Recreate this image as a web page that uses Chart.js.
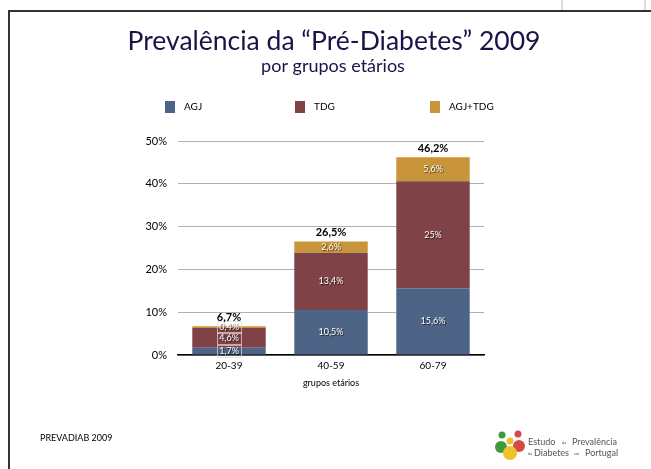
<!DOCTYPE html>
<html>
<head>
<meta charset="utf-8">
<script src="https://cdn.jsdelivr.net/npm/chart.js@4.4.1/dist/chart.umd.min.js"></script>
<style>
  html, body { margin: 0; padding: 0; background: #fff; }
  #wrap { position: relative; width: 651px; height: 469px; overflow: hidden; }
  #frame { position: absolute; left: 8px; top: 10px; width: 700px; height: 500px;
           border-left: 2px solid #333; border-top: 2px solid #333; }
  .tick { position: absolute; top: 0; width: 2px; height: 10px; background: #ddd; }
  canvas { position: absolute; left: 0; top: 0; }
</style>
</head>
<body>
<div id="wrap">
  <div id="frame"></div>
  <div class="tick" style="left:561px"></div>
  <div class="tick" style="left:644px"></div>
  <canvas id="chart" width="651" height="469"></canvas>
</div>
<script>
const categories = ['20-39', '40-59', '60-79'];
const agj = [1.7, 10.5, 15.6];
const tdg = [4.6, 13.4, 25];
const agjTdg = [0.4, 2.6, 5.6];
const totals = [6.7, 26.5, 46.2];
const yTicks = [0, 10, 20, 30, 40, 50];

const FONT = 'Lato, "Open Sans", sans-serif';
const fmt = v => String(v).replace('.', ',') + '%';

// titles, legend, labels and footer drawn on the canvas
const decorations = {
  id: 'decorations',
  afterDatasetsDraw(chart) {
    const ctx = chart.ctx;
    ctx.save();

    // segment labels
    chart.data.datasets.forEach((ds, di) => {
      const meta = chart.getDatasetMeta(di);
      meta.data.forEach((bar, i) => {
        const txt = fmt(ds.data[i]);
        const yc = (bar.y + bar.base) / 2;
        ctx.font = '9px ' + FONT;
        ctx.textAlign = 'center';
        ctx.textBaseline = 'middle';
        if (i === 0) {
          const w = ctx.measureText(txt).width + 4;
          ctx.strokeStyle = 'rgba(225,215,215,0.7)';
          ctx.lineWidth = 1;
          ctx.strokeRect(Math.round(bar.x - w / 2) + 0.5, Math.round(yc - 6) + 0.5, Math.round(w), 12);
        }
        ctx.shadowColor = 'rgba(0,0,0,0.7)';
        ctx.shadowOffsetX = 1;
        ctx.shadowOffsetY = 1;
        ctx.shadowBlur = 1;
        ctx.fillStyle = '#fff';
        ctx.fillText(txt, bar.x, yc);
        ctx.shadowColor = 'transparent';
      });
    });

    // totals on top of stacks
    const top = chart.getDatasetMeta(2);
    top.data.forEach((bar, i) => {
      ctx.font = 'bold 11px ' + FONT;
      ctx.fillStyle = '#000';
      ctx.textAlign = 'center';
      ctx.textBaseline = 'middle';
      ctx.fillText(fmt(totals[i]), bar.x, bar.y - 9);
    });

    // title + subtitle
    ctx.fillStyle = '#1c1248';
    ctx.textAlign = 'center';
    ctx.textBaseline = 'middle';
    ctx.font = '26.5px ' + FONT;
    ctx.fillText('Prevalência da \u201CPré-Diabetes\u201D 2009', 334, 41);
    ctx.font = '18px ' + FONT;
    ctx.fillText('por grupos etários', 333, 66);

    // legend
    const legendX = [165, 295, 430];
    chart.data.datasets.forEach((ds, di) => {
      ctx.fillStyle = ds.backgroundColor;
      ctx.fillRect(legendX[di], 101, 10, 12);
      ctx.fillStyle = '#000';
      ctx.font = '10px ' + FONT;
      ctx.textAlign = 'left';
      ctx.fillText(ds.label, legendX[di] + 19, 107);
    });

    // footer
    ctx.font = '9px ' + FONT;
    ctx.fillStyle = '#000';
    ctx.fillText('PREVADIAB 2009', 40, 438);

    // logo
    const dot = (x, y, r, c) => { ctx.fillStyle = c; ctx.beginPath(); ctx.arc(x, y, r, 0, Math.PI * 2); ctx.fill(); };
    dot(502, 435, 3.5, '#3f9a3c');
    dot(518, 434, 3.5, '#d9474a');
    dot(510, 441, 3.5, '#f0c22a');
    dot(501, 447, 6, '#3f9a3c');
    dot(519, 446, 6, '#d9474a');
    dot(510, 453, 7, '#f0c22a');
    ctx.fillStyle = '#555';
    ctx.font = '9px ' + FONT;
    ctx.fillText('Estudo', 528, 442);
    ctx.fillText('Prevalência', 572, 442);
    ctx.fillText('Diabetes', 534, 453);
    ctx.fillText('Portugal', 585, 453);
    ctx.font = '4px ' + FONT;
    ctx.fillText('da', 562, 443);
    ctx.fillText('da', 528, 454);
    ctx.fillText('em', 574, 454);
    ctx.restore();
  }
};

new Chart(document.getElementById('chart'), {
  type: 'bar',
  data: {
    labels: categories,
    datasets: [
      { label: 'AGJ', data: agj, backgroundColor: '#4e6486' },
      { label: 'TDG', data: tdg, backgroundColor: '#7f4347' },
      { label: 'AGJ+TDG', data: agjTdg, backgroundColor: '#c8953b' }
    ]
  },
  options: {
    responsive: false,
    animation: false,
    layout: { padding: { left: 100, right: 167, top: 141, bottom: 74 } },
    datasets: { bar: { categoryPercentage: 1, barPercentage: 0.72, borderWidth: 0 } },
    plugins: { legend: { display: false }, tooltip: { enabled: false } },
    scales: {
      x: {
        stacked: true,
        afterFit: s => { s.height = 40; },
        grid: { display: false, drawTicks: false },
        border: { color: '#000', width: 1.5 },
        ticks: { color: '#000', font: { family: FONT, size: 10 }, padding: 5 },
        title: { display: true, text: 'grupos etários', color: '#000',
                 font: { family: FONT, size: 9 }, padding: { top: 8, bottom: 7 } }
      },
      y: {
        stacked: true,
        min: 0,
        max: 50,
        afterFit: s => { s.width = 78; },
        afterBuildTicks: s => { s.ticks = yTicks.map(v => ({ value: v })); },
        border: { display: false },
        grid: { color: '#b0b0b0', lineWidth: 1, drawTicks: false },
        ticks: { color: '#000', font: { family: FONT, size: 11 }, padding: 11,
                 callback: v => v + '%' }
      }
    }
  },
  plugins: [decorations]
});
</script>
</body>
</html>
